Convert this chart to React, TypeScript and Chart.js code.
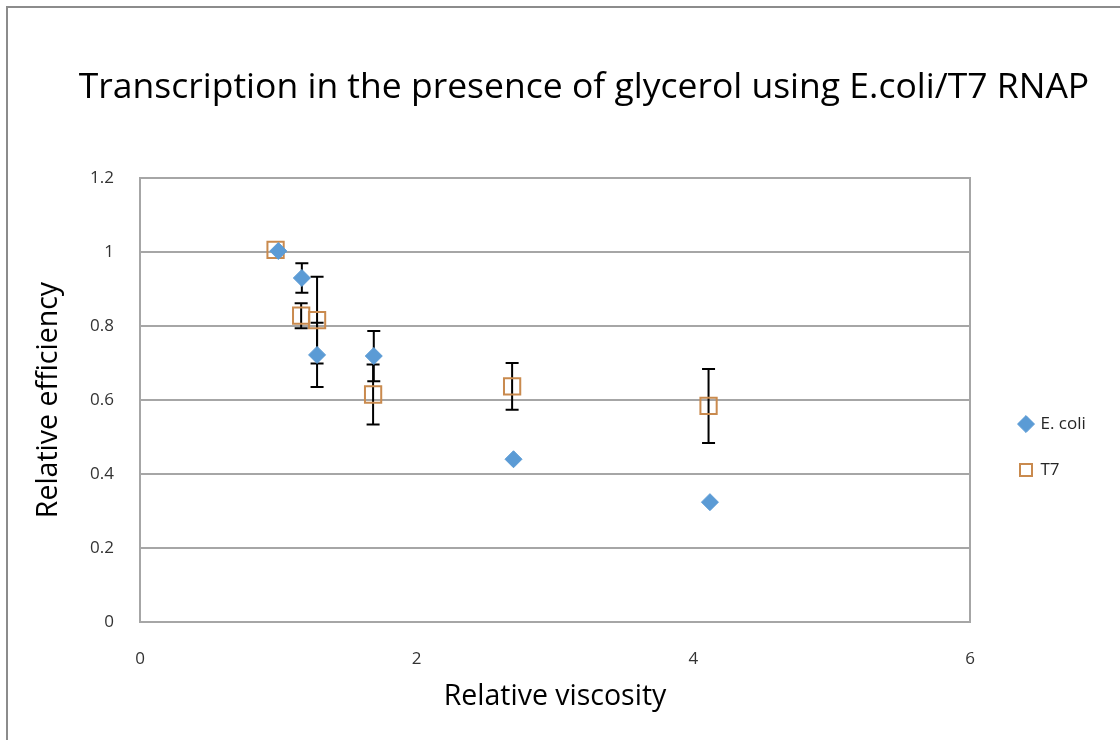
import React, { useEffect, useRef } from 'react';
import { Chart, registerables } from 'chart.js';

Chart.register(...registerables);

const chartTitle = 'Transcription in the presence of glycerol using E.coli/T7 RNAP';
const xAxisTitle = 'Relative viscosity';
const yAxisTitle = 'Relative efficiency';

const seriesNames = ['E. coli', 'T7'];

const ecoliX = [1.0, 1.17, 1.28, 1.69, 2.7, 4.12];
const ecoliY = [1.003, 0.93, 0.722, 0.719, 0.44, 0.324];
const ecoliErr = [0, 0.04, 0.087, 0.068, 0, 0];

const t7X = [0.98, 1.165, 1.28, 1.685, 2.69, 4.11];
const t7Y = [1.006, 0.828, 0.816, 0.615, 0.637, 0.584];
const t7Err = [0, 0.034, 0.117, 0.081, 0.063, 0.1];

const xTickValues = [0, 2, 4, 6];
const xTickLabels = ['0', '2', '4', '6'];
const yTickValues = [0, 0.2, 0.4, 0.6, 0.8, 1.0, 1.2];
const yTickLabels = ['0', '0.2', '0.4', '0.6', '0.8', '1', '1.2'];

const GRID = '#A6A6A6';
const BLUE = '#5B9BD5';
const ORANGE = '#C98A4E';

export default function App() {
  const ref = useRef<HTMLCanvasElement>(null);

  useEffect(() => {
    if (!ref.current) return;
    const errorBars = {
      id: 'errorBars',
      beforeDatasetsDraw(chart: any) {
        const { ctx, scales } = chart;
        const xs = scales.x;
        const ys = scales.y;
        const groups: [number[], number[], number[]][] = [
          [ecoliX, ecoliY, ecoliErr],
          [t7X, t7Y, t7Err],
        ];
        ctx.save();
        ctx.strokeStyle = '#000000';
        ctx.lineWidth = 2;
        for (const [gx, gy, ge] of groups) {
          for (let i = 0; i < gx.length; i++) {
            if (!ge[i]) continue;
            const px = xs.getPixelForValue(gx[i]);
            const top = ys.getPixelForValue(gy[i] + ge[i]);
            const bot = ys.getPixelForValue(gy[i] - ge[i]);
            ctx.beginPath();
            ctx.moveTo(px, top);
            ctx.lineTo(px, bot);
            ctx.moveTo(px - 6.5, top);
            ctx.lineTo(px + 6.5, top);
            ctx.moveTo(px - 6.5, bot);
            ctx.lineTo(px + 6.5, bot);
            ctx.stroke();
          }
        }
        ctx.restore();
      },
    };

    const chart = new Chart(ref.current, {
      type: 'scatter',
      data: {
        datasets: [
          {
            label: seriesNames[0],
            data: ecoliX.map((v, i) => ({ x: v, y: ecoliY[i] })),
            pointStyle: 'rectRot',
            pointRadius: 8.5,
            backgroundColor: BLUE,
            borderColor: BLUE,
            borderWidth: 1,
          },
          {
            label: seriesNames[1],
            data: t7X.map((v, i) => ({ x: v, y: t7Y[i] })),
            pointStyle: 'rect',
            pointRadius: 11.5,
            backgroundColor: 'rgba(0,0,0,0)',
            borderColor: ORANGE,
            borderWidth: 2,
          },
        ],
      },
      options: {
        animation: false,
        responsive: false,
        layout: { padding: 0 },
        plugins: {
          title: {
            display: true,
            text: chartTitle,
            color: '#000000',
            font: { family: 'Open Sans', size: 35.5, weight: 'normal' },
            padding: { top: 66.5, bottom: 69 },
          },
          legend: {
            position: 'right',
            fullSize: false,
            maxWidth: 100,
            labels: {
              usePointStyle: true,
              boxWidth: 12,
              boxHeight: 12,
              padding: 29,
              color: '#262626',
              font: { family: 'Open Sans', size: 17 },
            },
            title: {
              display: true,
              text: ' ',
              font: { size: 10 },
              padding: { top: 0, bottom: 82 },
            },
          },
          tooltip: { enabled: false },
        },
        scales: {
          x: {
            type: 'linear',
            min: 0,
            max: 6,
            afterBuildTicks: (s: any) => {
              s.ticks = xTickValues.map((v) => ({ value: v }));
            },
            afterFit: (s: any) => {
              s.height = 118;
            },
            ticks: {
              callback: (v: any) => xTickLabels[xTickValues.indexOf(Number(v))],
              padding: 27,
              color: '#333333',
              font: { family: 'Open Sans', size: 17 },
            },
            grid: { display: false, drawTicks: false },
            border: { display: true, color: GRID, width: 2 },
            title: {
              display: true,
              text: xAxisTitle,
              color: '#000000',
              font: { family: 'Open Sans', size: 28.5 },
              padding: { top: 0, bottom: 26 },
            },
          },
          y: {
            type: 'linear',
            min: 0,
            max: 1.2,
            afterBuildTicks: (s: any) => {
              s.ticks = yTickValues.map((v) => ({ value: v }));
            },
            afterFit: (s: any) => {
              s.width = 140;
            },
            ticks: {
              callback: (v: any) => yTickLabels[yTickValues.indexOf(Number(v))],
              padding: 26,
              color: '#333333',
              font: { family: 'Open Sans', size: 17 },
            },
            grid: { color: GRID, lineWidth: 2, drawTicks: false },
            border: { display: true, color: GRID, width: 2 },
            title: {
              display: true,
              text: yAxisTitle,
              color: '#000000',
              font: { family: 'Open Sans', size: 28.5 },
              padding: { top: 32, bottom: 0 },
            },
          },
          y2: {
            type: 'linear',
            position: 'right',
            min: 0,
            max: 1.2,
            afterFit: (s: any) => {
              s.width = 21;
            },
            ticks: { display: false },
            grid: { display: false, drawTicks: false },
            border: { display: true, color: GRID, width: 2 },
          },
          y3: {
            type: 'linear',
            position: 'right',
            weight: 2000,
            min: 0,
            max: 1,
            afterFit: (s: any) => {
              s.width = 77;
            },
            ticks: { display: false },
            grid: { display: false, drawTicks: false },
            border: { display: false },
          },
        },
      },
      plugins: [errorBars],
    } as any);

    return () => {
      chart.destroy();
    };
  }, []);

  return (
    <div
      style={{
        position: 'fixed',
        left: 0,
        top: 0,
        width: 1120,
        height: 740,
        overflow: 'hidden',
        background: '#ffffff',
      }}
    >
      <canvas ref={ref} width={1168} height={740} style={{ display: 'block' }} />
      <div
        style={{
          position: 'absolute',
          left: 6,
          top: 6,
          width: 1200,
          height: 800,
          borderLeft: '2px solid #8C8C8C',
          borderTop: '2px solid #8C8C8C',
          pointerEvents: 'none',
        }}
      />
    </div>
  );
}
